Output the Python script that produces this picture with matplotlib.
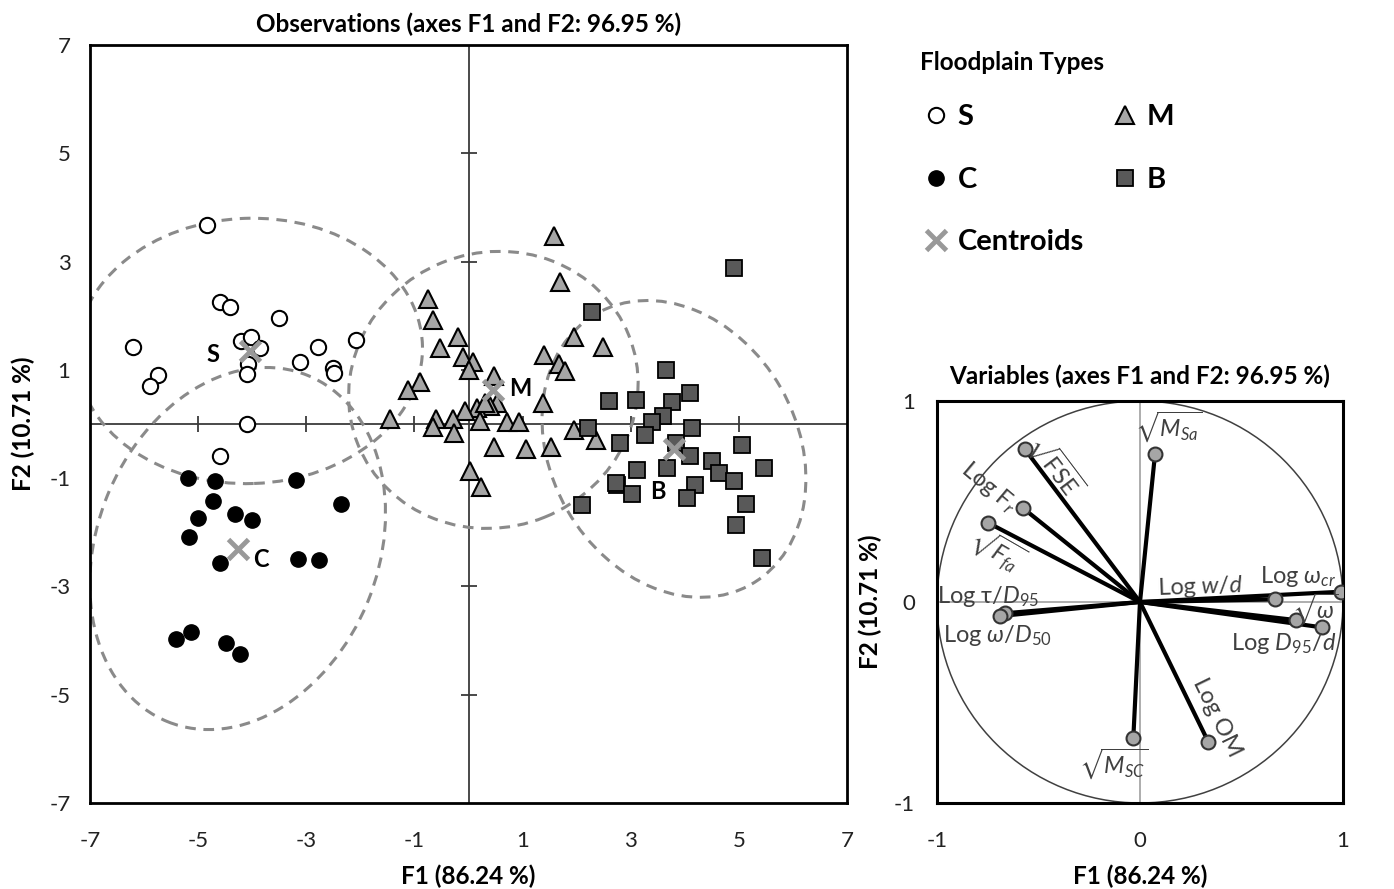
import matplotlib
matplotlib.use("Agg")
import numpy as np
import matplotlib.pyplot as plt
from matplotlib.patches import Ellipse, Circle
from matplotlib.lines import Line2D

plt.rcParams['font.family'] = ['Lato', 'DejaVu Sans']
plt.rcParams['mathtext.fontset'] = 'custom'
plt.rcParams['mathtext.rm'] = 'Lato'
plt.rcParams['mathtext.it'] = 'Lato:italic'
plt.rcParams['mathtext.bf'] = 'Lato:bold'
plt.rcParams['mathtext.fallback'] = 'stixsans'
plt.rcParams['axes.unicode_minus'] = False

# observations (F1, F2) per floodplain type
S_x = [-4.84, -4.59, -4.41, -3.50, -6.20, -4.21, -4.03, -3.85, -4.07, -4.10,
       -5.75, -5.89, -3.11, -2.78, -2.51, -2.49, -2.08, -4.10, -4.59]
S_y = [3.68, 2.26, 2.17, 1.96, 1.43, 1.53, 1.60, 1.41, 1.11, 0.92,
       0.91, 0.70, 1.14, 1.43, 1.03, 0.94, 1.55, 0.00, -0.59]

C_x = [-5.19, -4.69, -3.19, -2.36, -4.72, -5.01, -4.32, -4.01, -5.16, -4.59,
       -3.15, -2.76, -5.41, -5.14, -4.48, -4.22]
C_y = [-0.99, -1.05, -1.04, -1.47, -1.42, -1.73, -1.66, -1.77, -2.09, -2.56,
       -2.50, -2.51, -3.98, -3.85, -4.04, -4.24]

M_x = [1.59, 1.69, -0.75, -0.66, -0.20, -0.53, -0.10, 0.08, 0.01, 1.95,
       2.49, 1.40, 1.68, 1.78, -0.90, -1.11, 0.47, 0.52, 0.40, 0.15,
       1.38, -0.06, -1.45, -0.61, -0.28, -0.65, -0.27, 0.21, 0.71, 0.94,
       1.95, 2.36, 0.47, 1.06, 1.52, 0.03, 0.23, 0.30]
M_y = [3.48, 2.63, 2.30, 1.92, 1.60, 1.40, 1.24, 1.14, 1.00, 1.61,
       1.43, 1.28, 1.10, 0.97, 0.78, 0.63, 0.89, 0.39, 0.33, 0.29,
       0.39, 0.24, 0.09, 0.09, 0.10, -0.06, -0.16, 0.06, 0.03, 0.03,
       -0.12, -0.30, -0.42, -0.47, -0.42, -0.86, -1.16, 0.38]

B_x = [4.91, 2.29, 3.65, 2.60, 3.10, 4.09, 3.77, 3.60, 3.40, 2.21,
       4.13, 3.26, 2.80, 5.06, 3.83, 4.09, 3.68, 3.11, 4.50, 4.63,
       4.91, 5.47, 2.74, 2.72, 3.02, 4.19, 4.04, 2.09, 5.14, 4.94, 5.43]
B_y = [2.88, 2.06, 1.00, 0.43, 0.44, 0.57, 0.41, 0.14, 0.04, -0.08,
       -0.08, -0.20, -0.35, -0.38, -0.36, -0.59, -0.82, -0.85, -0.68, -0.91,
       -1.05, -0.82, -1.13, -1.09, -1.30, -1.13, -1.37, -1.50, -1.48, -1.87, -2.47]

groups = ['S', 'C', 'M', 'B']
cent_x = [-4.05, -4.27, 0.46, 3.80]
cent_y = [1.35, -2.30, 0.63, -0.46]
lab_x = [-4.72, -3.84, 0.95, 3.50]
lab_y = [1.28, -2.50, 0.65, -1.25]
ell_w = [6.4, 5.2, 5.4, 4.55]
ell_h = [4.9, 6.9, 5.07, 5.76]
ell_ang = [2, -22, 22, 30]

# variables (correlation circle)
var_names = [r'$\sqrt{\mathrm{FSE}}$', r'Log $\mathrm{F}_{r}$', r'$\sqrt{F_{fa}}$',
             r'Log τ/$D_{95}$', r'Log $\omega/D_{50}$', r'$\sqrt{M_{Sa}}$',
             r'Log $w/d$', r'Log $\omega_{cr}$', r'$\sqrt{\omega}$',
             r'Log $D_{95}/d$', 'Log OM', r'$\sqrt{M_{SC}}$']
var_x = [-0.567, -0.575, -0.75, -0.665, -0.69, 0.074, 0.665, 0.989, 0.768, 0.895, 0.336, -0.033]
var_y = [0.76, 0.466, 0.395, -0.056, -0.07, 0.736, 0.013, 0.051, -0.09, -0.126, -0.695, -0.678]
txt_x = [-0.42, -0.744, -0.704, -0.749, -0.704, 0.14, 0.30, 0.78, 0.862, 0.709, 0.38, -0.128]
txt_y = [0.677, 0.572, 0.259, 0.025, -0.169, 0.875, 0.075, 0.125, -0.035, -0.204, -0.577, -0.806]
txt_rot = [-53, -40, -30, 0, 0, 0, 2, 0, 0, 0, -64, 0]

obs_ticks = [-7, -5, -3, -1, 1, 3, 5, 7]
var_ticks = [-1, 0, 1]

W, H = 1394, 889
fig = plt.figure(figsize=(W / 100, H / 100), dpi=100)

# ---- observations ----
ax = fig.add_axes([90 / W, 1 - 803 / H, 757 / W, 758 / H])
ax.set_xlim(-7, 7)
ax.set_ylim(-7, 7)
ax.axhline(0, color='#3a3a3a', lw=1.3, zorder=1)
ax.axvline(0, color='#3a3a3a', lw=1.3, zorder=1)
inner = [t for t in obs_ticks if abs(t) < 7]
ax.plot(inner, np.zeros(len(inner)), ls='none', marker='|', ms=12, mew=1.3, color='#3a3a3a', zorder=1)
ax.plot(np.zeros(len(inner)), inner, ls='none', marker='_', ms=12, mew=1.3, color='#3a3a3a', zorder=1)

for i in range(4):
    e = Ellipse((cent_x[i], cent_y[i]), ell_w[i], ell_h[i], angle=ell_ang[i],
                fill=False, ec='#8a8a8a', lw=2.2, ls=(0, (3.5, 2.5)), zorder=2)
    ax.add_patch(e)

ax.plot(S_x, S_y, 'o', ms=11, mfc='white', mec='black', mew=1.5, ls='none', zorder=3)
ax.plot(C_x, C_y, 'o', ms=11, mfc='black', mec='black', mew=1, ls='none', zorder=3)
ax.plot(M_x, M_y, '^', ms=13, mfc='#a6a6a6', mec='black', mew=1.5, ls='none', zorder=3)
ax.plot(B_x, B_y, 's', ms=11, mfc='#595959', mec='black', mew=1.3, ls='none', zorder=3)
ax.plot(cent_x, cent_y, 'x', ms=14, mew=3.5, color='#999999', ls='none', zorder=4)
for i in range(4):
    ax.text(lab_x[i], lab_y[i], groups[i], fontsize=17, fontweight='bold',
            ha='center', va='center', zorder=5)

ax.set_xticks(obs_ticks)
ax.set_yticks(obs_ticks)
ax.tick_params(axis='x', length=0, labelsize=16, pad=20, colors='#222222')
ax.tick_params(axis='y', length=0, labelsize=16, pad=14, colors='#222222')
for s in ax.spines.values():
    s.set_linewidth(2)
ax.set_title('Observations (axes F1 and F2: 96.95 %)', fontsize=17.5, fontweight='bold', pad=9)
ax.set_xlabel('F1 (86.24 %)', fontsize=17.5, fontweight='bold', labelpad=10)
ax.set_ylabel('F2 (10.71 %)', fontsize=17.5, fontweight='bold', labelpad=10)

# ---- variables ----
ax2 = fig.add_axes([937 / W, 1 - 803 / H, 406 / W, 402 / H])
ax2.set_xlim(-1, 1)
ax2.set_ylim(-1, 1)
ax2.axhline(0, color='#a0a0a0', lw=1.2, zorder=1)
ax2.axvline(0, color='#a0a0a0', lw=1.2, zorder=1)
ax2.add_patch(Circle((0, 0), 1, fill=False, ec='#404040', lw=1.1, zorder=1))
for i in range(len(var_x)):
    ax2.plot([0, var_x[i]], [0, var_y[i]], color='black', lw=3, zorder=2)
ax2.plot(var_x, var_y, 'o', ms=10, mfc='#a6a6a6', mec='#333333', mew=1.5, ls='none', zorder=3)
for i in range(len(var_names)):
    ax2.text(txt_x[i], txt_y[i], var_names[i], fontsize=17, color='#404040',
             ha='center', va='center', rotation=txt_rot[i], rotation_mode='anchor', zorder=4)
ax2.set_xticks(var_ticks)
ax2.set_yticks(var_ticks)
ax2.tick_params(axis='x', length=0, labelsize=16, pad=20, colors='#222222')
ax2.tick_params(axis='y', length=0, labelsize=16, pad=16, colors='#222222')
for s in ax2.spines.values():
    s.set_linewidth(2.2)
ax2.set_title('Variables (axes F1 and F2: 96.95 %)', fontsize=17.5, fontweight='bold', pad=12)
ax2.set_xlabel('F1 (86.24 %)', fontsize=17.5, fontweight='bold', labelpad=10)
ax2.set_ylabel('F2 (10.71 %)', fontsize=17.5, fontweight='bold', labelpad=8)

# ---- legend ----
fig.text(920 / W, 1 - 62 / H, 'Floodplain Types', fontsize=17.5, fontweight='bold',
         ha='left', va='center')
handles = [
    Line2D([], [], marker='o', ls='none', ms=11, mfc='white', mec='black', mew=1.5),
    Line2D([], [], marker='o', ls='none', ms=11, mfc='black', mec='black'),
    Line2D([], [], marker='x', ls='none', ms=14, mew=3.5, color='#999999'),
    Line2D([], [], marker='^', ls='none', ms=13, mfc='#a6a6a6', mec='black', mew=1.5),
    Line2D([], [], marker='s', ls='none', ms=11, mfc='#595959', mec='black', mew=1.3),
]
labels = ['S', 'C', 'Centroids', 'M', 'B']
leg = fig.legend(handles, labels, loc='upper left', bbox_to_anchor=(898 / W, 1 - 78 / H),
                 ncol=2, frameon=False,
                 prop={'size': 21, 'weight': 'bold'},
                 handlelength=0.8, handletextpad=0.35,
                 labelspacing=1.25, columnspacing=1.0)

fig.savefig('out.png', dpi=100)
